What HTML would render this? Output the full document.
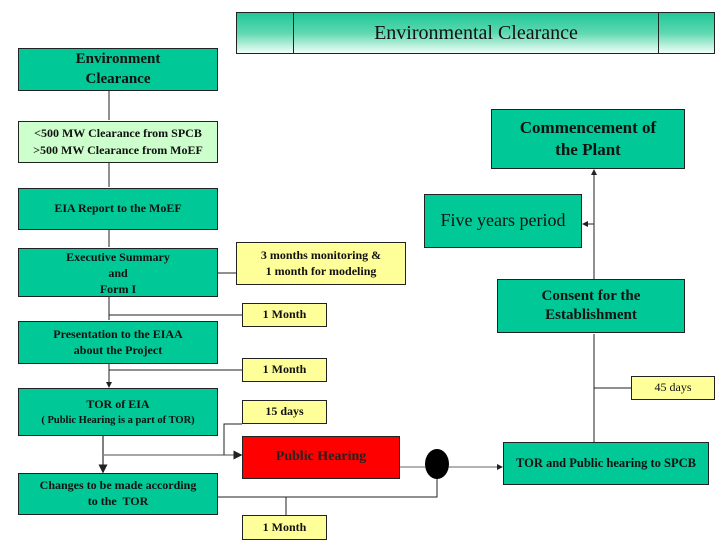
<!DOCTYPE html>
<html><head><meta charset="utf-8"><style>
body{margin:0;width:728px;height:546px;background:#fff;position:relative;overflow:hidden;font-family:"Liberation Serif",serif;}
.b{position:absolute;box-sizing:border-box;border:1px solid #222;display:flex;align-items:center;justify-content:center;text-align:center;font-weight:bold;color:#111;line-height:1.3;}
.t{background:#00c896;}
.y{background:#ffff99;font-size:12px;}
</style></head><body>
<div style="position:absolute;left:236px;top:12px;width:479px;height:42px;box-sizing:border-box;border:1px solid #222;background:linear-gradient(#20c89a,#5fd8b0 50%,#f0fff8);"></div>
<div style="position:absolute;left:293px;top:12px;width:366px;height:42px;border-left:1px solid #222;border-right:1px solid #222;box-sizing:border-box;display:flex;align-items:center;justify-content:center;font-size:20px;color:#111;">Environmental Clearance</div>

<div class="b t" style="left:18px;top:48px;width:200px;height:43px;font-size:15px;">Environment<br>Clearance</div>
<div class="b" style="left:18px;top:121px;width:200px;height:42px;font-size:12px;background:#ccffcc;line-height:1.45;">&lt;500 MW Clearance from SPCB<br>&gt;500 MW Clearance from MoEF</div>
<div class="b t" style="left:18px;top:188px;width:200px;height:42px;font-size:12px;">EIA Report to the MoEF</div>
<div class="b t" style="left:18px;top:248px;width:200px;height:49px;font-size:12px;align-items:flex-start;line-height:1.35;">Executive Summary<br>and<br>Form I</div>
<div class="b t" style="left:18px;top:321px;width:200px;height:43px;font-size:12px;">Presentation to the EIAA<br>about the Project</div>
<div class="b t" style="left:18px;top:388px;width:200px;height:48px;font-size:12px;line-height:1.25;"><span>TOR of EIA<br><span style="font-size:10.5px">( Public Hearing is a part of TOR)</span></span></div>
<div class="b t" style="left:18px;top:473px;width:200px;height:42px;font-size:12px;">Changes to be made according<br>to the&nbsp; TOR</div>

<div class="b y" style="left:236px;top:242px;width:170px;height:43px;">3 months monitoring &amp;<br>1 month for modeling</div>
<div class="b y" style="left:242px;top:303px;width:85px;height:24px;">1 Month</div>
<div class="b y" style="left:242px;top:358px;width:85px;height:24px;">1 Month</div>
<div class="b y" style="left:242px;top:400px;width:85px;height:24px;">15 days</div>
<div class="b y" style="left:242px;top:515px;width:85px;height:25px;">1 Month</div>
<div class="b" style="left:242px;top:436px;width:158px;height:43px;background:#ff0000;color:#222;font-size:14px;">Public Hearing</div>

<div class="b t" style="left:503px;top:442px;width:206px;height:43px;font-size:12.5px;white-space:nowrap;">TOR and Public hearing to SPCB</div>
<div class="b t" style="left:497px;top:279px;width:188px;height:54px;font-size:15px;">Consent for the<br>Establishment</div>
<div class="b y" style="left:631px;top:376px;width:84px;height:24px;font-weight:normal;">45 days</div>
<div class="b t" style="left:491px;top:109px;width:194px;height:60px;font-size:17px;">Commencement of<br>the Plant</div>
<div class="b t" style="left:424px;top:194px;width:158px;height:54px;font-size:18px;font-weight:normal;">Five years period</div>

<svg width="728" height="546" style="position:absolute;left:0;top:0" fill="none" stroke="#222" stroke-width="1">
<defs><marker id="a" markerWidth="6" markerHeight="6" refX="5" refY="3" orient="auto"><path d="M0,0L6,3L0,6z" fill="#222" stroke="none"/></marker></defs>
<path d="M109 91V120M109 163V187M109 230V247M109 297V320M109 364V387" marker-end="url(#a)"/>
<path d="M242 315H109M242 370H109M218 273H236"/>
<path d="M103 436V472" stroke="#555" stroke-width="1.5" marker-end="url(#a)"/>
<path d="M103 455H241" stroke="#888" stroke-width="1.5" marker-end="url(#a)"/>
<path d="M242 424H224V455"/>
<path d="M218 497H437V479M286 497V515"/>
<path d="M400 467H425" stroke="#666"/>
<path d="M449 467H502" stroke="#666" marker-end="url(#a)"/>
<path d="M594 442V334M594 388H631M594 279V170" marker-end="url(#a)"/>
<path d="M594 224H583" marker-end="url(#a)"/>
</svg>
<svg width="728" height="546" style="position:absolute;left:0;top:0"><ellipse cx="437" cy="464" rx="12" ry="15" fill="#000"/></svg>
</body></html>
